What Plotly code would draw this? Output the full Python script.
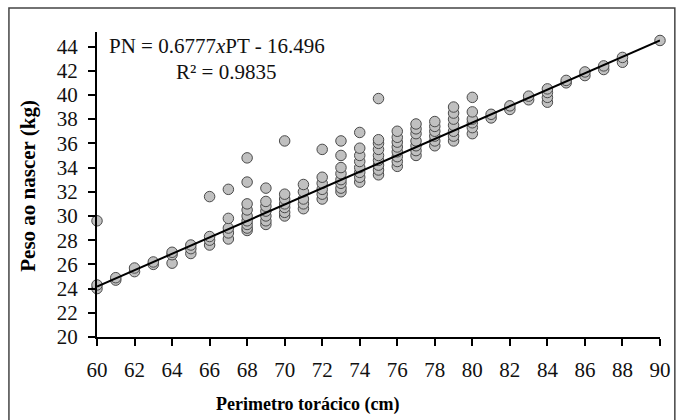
import plotly.graph_objects as go

# Observations: chest perimeter (cm) -> birth weight (kg)
pt_values = [
    60, 60, 60,
    61, 61,
    62, 62,
    63, 63,
    64, 64, 64,
    65, 65, 65,
    66, 66, 66, 66,
    67, 67, 67, 67, 67,
    68, 68, 68, 68, 68, 68, 68, 68, 68,
    69, 69, 69, 69, 69, 69, 69,
    70, 70, 70, 70, 70, 70, 70,
    71, 71, 71, 71, 71,
    72, 72, 72, 72, 72, 72,
    73, 73, 73, 73, 73, 73, 73, 73,
    74, 74, 74, 74, 74, 74, 74, 74,
    75, 75, 75, 75, 75, 75, 75, 75, 75,
    76, 76, 76, 76, 76, 76, 76, 76,
    77, 77, 77, 77, 77, 77, 77,
    78, 78, 78, 78, 78, 78,
    79, 79, 79, 79, 79, 79, 79,
    80, 80, 80, 80, 80, 80,
    81, 81,
    82, 82,
    83, 83,
    84, 84, 84, 84,
    85, 85,
    86, 86,
    87, 87,
    88, 88,
    90,
]
pn_values = [
    24.0, 24.3, 29.6,
    24.7, 24.9,
    25.4, 25.7,
    26.0, 26.2,
    26.1, 26.8, 27.0,
    26.9, 27.3, 27.6,
    27.6, 28.0, 28.3, 31.6,
    28.1, 28.6, 29.0, 29.8, 32.2,
    28.8, 29.0, 29.3, 29.6, 30.0, 30.5, 31.0, 32.8, 34.8,
    29.3, 29.6, 30.0, 30.4, 30.8, 31.2, 32.3,
    30.0, 30.3, 30.7, 31.0, 31.4, 31.8, 36.2,
    30.6, 31.0, 31.4, 32.0, 32.6,
    31.4, 31.8, 32.2, 32.7, 33.2, 35.5,
    32.0, 32.3, 32.7, 33.0, 33.5, 34.0, 35.0, 36.2,
    32.8, 33.2, 33.6, 34.0, 34.5, 35.0, 35.6, 36.9,
    33.4, 33.8, 34.2, 34.6, 35.0, 35.5, 36.0, 36.3, 39.7,
    34.1, 34.5, 34.9, 35.3, 35.7, 36.1, 36.5, 37.0,
    35.0, 35.4, 35.8, 36.2, 36.8, 37.2, 37.6,
    35.8, 36.2, 36.6, 37.0, 37.4, 37.8,
    36.2, 36.6, 37.0, 37.5, 38.0, 38.5, 39.0,
    36.8, 37.3, 37.7, 38.0, 38.6, 39.8,
    38.1, 38.4,
    38.8, 39.1,
    39.6, 39.9,
    39.4, 39.8, 40.2, 40.5,
    41.0, 41.2,
    41.6, 41.9,
    42.1, 42.4,
    42.7, 43.1,
    44.5,
]

# Regression
slope = 0.6777
intercept = -16.496
fit_x = [60, 90]
fit_y = [slope * v + intercept for v in fit_x]

x_ticks = list(range(60, 91, 2))
y_ticks = list(range(20, 45, 2))

FONT = "Liberation Serif"

fig = go.Figure()
fig.add_trace(go.Scatter(
    x=pt_values, y=pn_values, mode="markers",
    marker=dict(size=10.5, color="#c0c0c0", line=dict(color="#4a4a4a", width=1)),
    cliponaxis=False, showlegend=False,
))
fig.add_trace(go.Scatter(
    x=fit_x, y=fit_y, mode="lines",
    line=dict(color="black", width=2),
    cliponaxis=False, showlegend=False,
))

axis_common = dict(
    showline=True, linecolor="black", linewidth=2,
    ticks="outside", ticklen=7, tickwidth=2, tickcolor="black",
    showgrid=False, zeroline=False,
    tickfont=dict(family=FONT, size=21, color="#111111"),
)
fig.update_xaxes(range=[60, 90], tickvals=x_ticks, ticklabelstandoff=6, **axis_common)
fig.update_yaxes(range=[20, 45.2], tickvals=y_ticks, ticklabelstandoff=6, **axis_common)

fig.update_layout(
    width=683, height=420,
    margin=dict(l=97, r=17, t=32, b=83),
    paper_bgcolor="white", plot_bgcolor="white",
    font=dict(family=FONT, color="black"),
    annotations=[
        dict(text="PN = 0.6777<i>x</i>PT - 16.496", xref="paper", yref="paper",
             x=(107 - 97) / 569, y=(337 - 46) / 305, xanchor="left", yanchor="middle",
             showarrow=False, font=dict(family=FONT, size=21, color="#111111")),
        dict(text="R² = 0.9835", xref="paper", yref="paper",
             x=(227 - 97) / 569, y=(337 - 72) / 305, xanchor="center", yanchor="middle",
             showarrow=False, font=dict(family=FONT, size=21, color="#111111")),
        dict(text="<b>Perimetro torácico (cm)</b>", xref="paper", yref="paper",
             x=(310 - 97) / 569, y=(337 - 405) / 305, xanchor="center", yanchor="middle",
             showarrow=False, font=dict(family=FONT, size=18, color="black")),
        dict(text="<b>Peso ao nascer (kg)</b>", xref="paper", yref="paper",
             x=(27 - 97) / 569, y=(337 - 186) / 305, xanchor="center", yanchor="middle",
             textangle=-90, showarrow=False, font=dict(family=FONT, size=21, color="black")),
    ],
    shapes=[
        dict(type="rect", xref="paper", yref="paper",
             x0=(8 - 97) / 569, x1=(681 - 97) / 569,
             y0=(337 - 430) / 305, y1=(337 - 8) / 305,
             line=dict(color="#444444", width=1.5), fillcolor="rgba(0,0,0,0)", layer="below"),
    ],
)

fig.write_html("out.html")
